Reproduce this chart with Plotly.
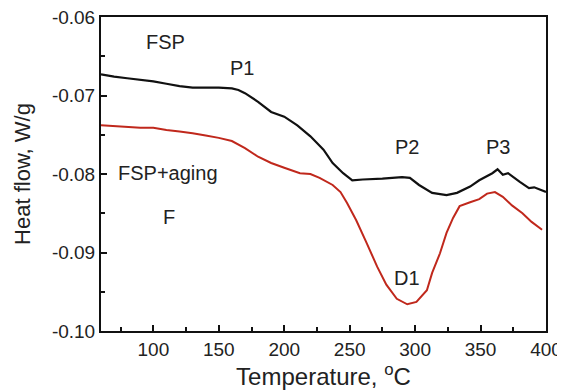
import plotly.graph_objects as go

# FSP (black) curve
fsp_t = [60, 70, 80, 90, 100, 110, 120, 130, 140, 150, 160, 165, 170, 175, 180, 190, 200,
         210, 220, 230, 237, 245, 252, 260, 275, 290, 296, 303, 313, 324, 332, 342, 349,
         359, 363, 367, 371, 380, 387, 391, 400]
fsp_hf = [-0.0673, -0.0676, -0.0678, -0.0680, -0.0682, -0.0685, -0.0688, -0.0690, -0.0690,
          -0.0690, -0.0691, -0.0693, -0.0697, -0.0702, -0.0708, -0.0721, -0.0727, -0.0738,
          -0.0752, -0.0769, -0.0786, -0.0799, -0.0808, -0.0807, -0.0806, -0.0804, -0.0805,
          -0.0814, -0.0824, -0.0827, -0.0824, -0.0816, -0.0808, -0.0799, -0.0794, -0.0801,
          -0.0799, -0.0810, -0.0818, -0.0817, -0.0823]

# FSP+aging (red) curve
aged_t = [60, 70, 80, 90, 100, 110, 120, 130, 140, 150, 160, 170, 180, 190, 200, 212, 220,
          227, 237, 243, 248, 255, 263, 271, 278, 286, 294, 301, 309, 313, 319, 324, 329,
          334, 342, 349, 355, 361, 367, 374, 382, 389, 397]
aged_hf = [-0.0738, -0.0739, -0.0740, -0.0741, -0.0741, -0.0744, -0.0746, -0.0748, -0.0751,
           -0.0754, -0.0758, -0.0767, -0.0778, -0.0786, -0.0792, -0.0799, -0.0800, -0.0805,
           -0.0814, -0.0823, -0.0837, -0.0859, -0.0888, -0.0918, -0.0941, -0.0959, -0.0966,
           -0.0963, -0.0948, -0.0926, -0.0901, -0.0875, -0.0856, -0.0841, -0.0836, -0.0832,
           -0.0825, -0.0823, -0.0829, -0.0840, -0.0850, -0.0861, -0.0871]

x_tickvals = [100, 150, 200, 250, 300, 350, 400]
x_ticktext = ["100", "150", "200", "250", "300", "350", "400"]
y_tickvals = [-0.10, -0.09, -0.08, -0.07, -0.06]
y_ticktext = ["-0.10", "-0.09", "-0.08", "-0.07", "-0.06"]

labels_text = ["FSP", "P1", "P2", "P3", "FSP+aging", "F", "D1"]
labels_x = [109, 168, 294, 363, 111, 112, 294]
labels_y = [-0.0632, -0.0665, -0.0766, -0.0766, -0.0799, -0.0855, -0.0932]

FONT = "Arial, Liberation Sans, sans-serif"

fig = go.Figure()
fig.add_trace(go.Scatter(x=fsp_t, y=fsp_hf, mode="lines",
                         line=dict(color="#111111", width=2.2), showlegend=False))
fig.add_trace(go.Scatter(x=aged_t, y=aged_hf, mode="lines",
                         line=dict(color="#c0281c", width=2), showlegend=False))

for t, lx, ly in zip(labels_text, labels_x, labels_y):
    fig.add_annotation(x=lx, y=ly, text=t, showarrow=False,
                       font=dict(family=FONT, size=20, color="#222222"))

# page body has an 8px default margin, so the figure is 8px smaller
fig.update_layout(
    width=557, height=382,
    margin=dict(l=93, r=19, t=9, b=59),
    paper_bgcolor="white", plot_bgcolor="white",
    font=dict(family=FONT, color="#222222"),
)
fig.update_xaxes(
    range=[60, 400], tickvals=x_tickvals, ticktext=x_ticktext,
    ticks="inside", ticklen=6, tickwidth=1.5, tickcolor="#111111",
    minor=dict(ticks="inside", ticklen=4, dtick=25, tick0=75, tickcolor="#111111", tickwidth=1.5),
    showline=True, linecolor="#111111", linewidth=2, mirror=True,
    showgrid=False, zeroline=False, automargin=False, ticklabeloverflow="allow",
    tickfont=dict(family=FONT, size=19, color="#222222"),
    title=dict(text="Temperature, <sup>o</sup>C", font=dict(family=FONT, size=24, color="#222222")),
)
fig.update_yaxes(
    range=[-0.10, -0.06], tickvals=y_tickvals, ticktext=y_ticktext,
    ticks="inside", ticklen=6, tickwidth=1.5, tickcolor="#111111",
    minor=dict(ticks="inside", ticklen=4, dtick=0.005, tick0=-0.095, tickcolor="#111111", tickwidth=1.5),
    showline=True, linecolor="#111111", linewidth=2, mirror=True,
    showgrid=False, zeroline=False, automargin=False, ticklabeloverflow="allow",
    tickfont=dict(family=FONT, size=19, color="#222222"),
    title=dict(text="Heat flow, W/g", font=dict(family=FONT, size=22, color="#222222")),
)

fig.write_html("out.html")
